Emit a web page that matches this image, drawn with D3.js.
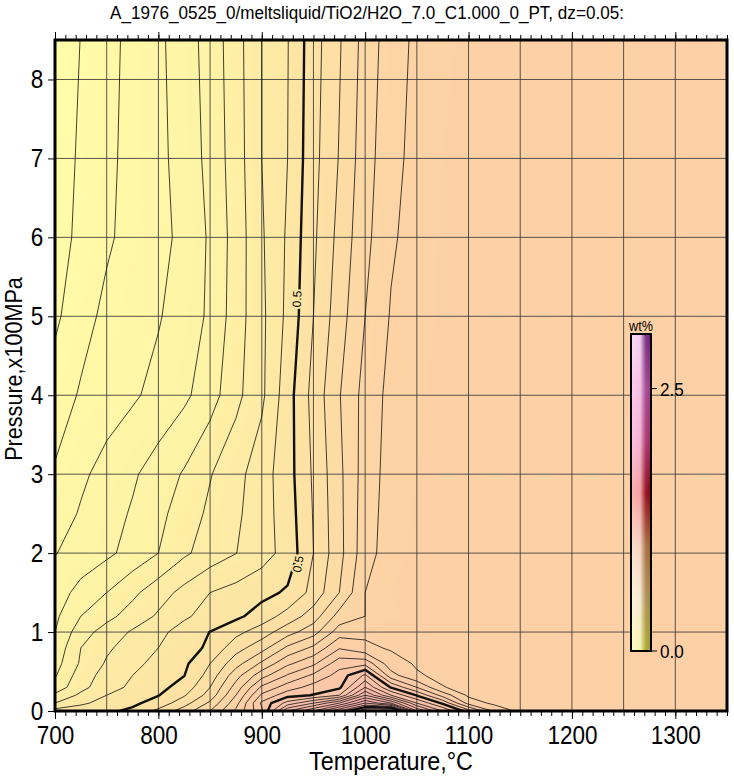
<!DOCTYPE html>
<html>
<head>
<meta charset="utf-8">
<script src="https://cdnjs.cloudflare.com/ajax/libs/d3/7.8.5/d3.min.js"></script>
<style>
  body { margin: 0; background: #fff; }
  svg text { font-family: "Liberation Sans", Arial, Helvetica, sans-serif; fill: #000; }
</style>
</head>
<body>
<svg id="chart" width="734" height="776"></svg>
<script>
// ---- data ----
const TITLE = "A_1976_0525_0/meltsliquid/TiO2/H2O_7.0_C1.000_0_PT, dz=0.05:";
const T_COLS = [700, 725, 750, 775, 800, 825, 850, 875, 900, 925, 950, 975, 1000, 1025, 1050, 1075, 1100, 1125, 1150, 1200, 1350];
const P_ROWS = [8.5, 7, 6, 5, 4, 3, 2.5, 2, 1.5, 1.2, 1.0, 0.8, 0.6, 0.45, 0.3, 0.2, 0.1, 0];
// TiO2 wt% in melt, one row per pressure (top to bottom), one value per temperature
const TIO2 = [
  [0.07, 0.101, 0.134, 0.164, 0.19, 0.226, 0.27, 0.329, 0.40, 0.448, 0.529, 0.595, 0.669, 0.727, 0.76, 0.775, 0.785, 0.785, 0.785, 0.785, 0.785],
  [0.075, 0.107, 0.139, 0.165, 0.188, 0.219, 0.265, 0.325, 0.40, 0.45, 0.534, 0.603, 0.678, 0.735, 0.765, 0.78, 0.785, 0.785, 0.785, 0.785, 0.785],
  [0.08, 0.111, 0.143, 0.166, 0.186, 0.212, 0.257, 0.321, 0.394, 0.457, 0.541, 0.615, 0.686, 0.743, 0.77, 0.782, 0.785, 0.785, 0.785, 0.785, 0.785],
  [0.09, 0.133, 0.161, 0.179, 0.196, 0.224, 0.258, 0.325, 0.389, 0.462, 0.55, 0.628, 0.70, 0.754, 0.772, 0.783, 0.785, 0.785, 0.785, 0.785, 0.785],
  [0.125, 0.155, 0.174, 0.193, 0.215, 0.24, 0.278, 0.336, 0.39, 0.479, 0.567, 0.647, 0.718, 0.765, 0.778, 0.784, 0.785, 0.785, 0.785, 0.785, 0.785],
  [0.155, 0.19, 0.219, 0.243, 0.273, 0.305, 0.347, 0.384, 0.427, 0.48, 0.557, 0.638, 0.723, 0.77, 0.78, 0.785, 0.785, 0.785, 0.785, 0.785, 0.785],
  [0.173, 0.205, 0.23, 0.255, 0.287, 0.323, 0.36, 0.391, 0.428, 0.475, 0.553, 0.636, 0.727, 0.772, 0.782, 0.785, 0.785, 0.785, 0.785, 0.785, 0.785],
  [0.198, 0.219, 0.24, 0.267, 0.30, 0.342, 0.372, 0.399, 0.429, 0.469, 0.55, 0.634, 0.73, 0.775, 0.783, 0.785, 0.785, 0.785, 0.785, 0.785, 0.785],
  [0.225, 0.267, 0.30, 0.339, 0.378, 0.415, 0.45, 0.467, 0.485, 0.507, 0.567, 0.65, 0.75, 0.78, 0.784, 0.785, 0.785, 0.785, 0.785, 0.785, 0.785],
  [0.24, 0.30, 0.336, 0.371, 0.407, 0.443, 0.468, 0.489, 0.523, 0.57, 0.625, 0.72, 0.75, 0.777, 0.783, 0.785, 0.785, 0.785, 0.785, 0.785, 0.785],
  [0.25, 0.328, 0.371, 0.406, 0.438, 0.469, 0.501, 0.536, 0.575, 0.63, 0.68, 0.775, 0.79, 0.787, 0.786, 0.785, 0.785, 0.785, 0.785, 0.785, 0.785],
  [0.265, 0.35, 0.392, 0.422, 0.45, 0.477, 0.51, 0.58, 0.63, 0.71, 0.76, 0.845, 0.81, 0.795, 0.79, 0.787, 0.785, 0.785, 0.785, 0.785, 0.785],
  [0.28, 0.357, 0.406, 0.437, 0.465, 0.49, 0.55, 0.63, 0.71, 0.79, 0.84, 0.93, 0.935, 0.82, 0.795, 0.789, 0.787, 0.785, 0.785, 0.785, 0.785],
  [0.295, 0.375, 0.419, 0.45, 0.475, 0.499, 0.57, 0.68, 0.78, 0.855, 0.91, 0.97, 1.06, 0.87, 0.805, 0.79, 0.788, 0.785, 0.785, 0.785, 0.785],
  [0.32, 0.385, 0.43, 0.46, 0.485, 0.52, 0.6, 0.72, 0.86, 0.925, 0.97, 0.99, 1.15, 0.995, 0.9, 0.802, 0.788, 0.785, 0.785, 0.785, 0.785],
  [0.36, 0.41, 0.45, 0.475, 0.498, 0.545, 0.62, 0.75, 0.91, 0.98, 1.003, 1.05, 1.25, 1.1, 0.995, 0.88, 0.79, 0.786, 0.785, 0.785, 0.785],
  [0.40, 0.44, 0.47, 0.49, 0.52, 0.58, 0.66, 0.78, 0.96, 1.07, 1.15, 1.25, 1.4, 1.3, 1.1, 0.99, 0.83, 0.788, 0.786, 0.785, 0.785],
  [0.47, 0.48, 0.49, 0.51, 0.563, 0.625, 0.70, 0.81, 0.94, 1.2, 1.3, 1.45, 1.6, 1.65, 1.25, 1.1, 0.97, 0.84, 0.787, 0.785, 0.785]
];
const X_MAJOR = d3.range(700, 1351, 100);
const X_MINOR = d3.range(700, 1351, 10);
const X_GRID = d3.range(750, 1350, 50);
const Y_MAJOR = d3.range(0, 9, 1);
const Y_GRID = d3.range(1, 9, 1);
const CB_TICKS = [0, 2.5];
const CONTOUR_LABELS = [
  {t: 934, p: 5.22, text: "0.5", angle: -88},
  {t: 935, p: 1.86, text: "0.5", angle: -80}
];

// ---- layout ----
const svg = d3.select("#chart");
const X0 = 55, X1 = 727, Y0 = 40, Y1 = 711;
const x = d3.scaleLinear().domain([700, 1350]).range([X0, X1]);
const y = d3.scaleLinear().domain([0, 8.5]).range([Y1, Y0]);

// colour of the field
const FILL = d3.scaleLinear()
  .domain([0, 0.1, 0.3, 0.5, 0.785, 1.0, 1.3, 1.7, 2.2, 3.0])
  .range(["#ffffae", "#fffba8", "#fef1a5", "#fde4a4", "#fdd1a5", "#fcc6a8", "#f9b4ac", "#f4a2b0", "#f0a8d8", "#c070c0"])
  .clamp(true);

const defs = svg.append("defs");
defs.append("clipPath").attr("id", "plotclip")
  .append("rect").attr("x", X0).attr("y", Y0).attr("width", X1 - X0).attr("height", Y1 - Y0);

// grid index -> data units (sample i sits at contour coordinate i + 0.5)
const nx = T_COLS.length, ny = P_ROWS.length;
const values = TIO2.flat();
const tIdx = d3.scaleLinear().domain(d3.range(nx)).range(T_COLS);
const pIdx = d3.scaleLinear().domain(d3.range(ny)).range(P_ROWS);
const proj = d3.geoTransform({
  point(px, py) { this.stream.point(x(tIdx(px - 0.5)), y(pIdx(py - 0.5))); }
});
const path = d3.geoPath(proj);

const plot = svg.append("g").attr("clip-path", "url(#plotclip)");

/** 填色 **/
const fillLevels = d3.range(0, 1.8, 0.01);
plot.append("g").selectAll("path")
  .data(d3.contours().size([nx, ny]).thresholds(fillLevels)(values))
  .join("path")
  .attr("d", path)
  .attr("fill", d => FILL(d.value + 0.005));

/** 网格线 **/
const grid = plot.append("g").attr("stroke", "#3a3a3a").attr("stroke-width", 1).attr("stroke-opacity", 0.85);
grid.selectAll("line.v").data(X_GRID).join("line").attr("class", "v")
  .attr("x1", d => x(d)).attr("x2", d => x(d)).attr("y1", Y0).attr("y2", Y1);
grid.selectAll("line.h").data(Y_GRID).join("line").attr("class", "h")
  .attr("x1", X0).attr("x2", X1).attr("y1", d => y(d)).attr("y2", d => y(d));

/** 等值线 **/
const lineLevels = d3.range(1, 35).map(k => k * 0.05);
plot.append("g").selectAll("path")
  .data(d3.contours().size([nx, ny]).thresholds(lineLevels)(values))
  .join("path")
  .attr("d", path)
  .attr("fill", "none")
  .attr("stroke", "#111")
  .attr("stroke-linejoin", "round")
  .attr("stroke-width", d => Math.abs(d.value * 2 - Math.round(d.value * 2)) < 1e-6 ? 2.4 : 0.8);

// contour annotations
plot.append("g").selectAll("text")
  .data(CONTOUR_LABELS)
  .join("text")
  .attr("transform", d => `translate(${x(d.t)},${y(d.p)}) rotate(${d.angle})`)
  .attr("text-anchor", "middle")
  .attr("dy", "0.35em")
  .attr("font-size", 12)
  .attr("stroke", FILL(0.5))
  .attr("stroke-width", 4)
  .attr("paint-order", "stroke")
  .text(d => d.text);

/** 坐标轴 **/
function styleAxis(g) {
  g.attr("font-size", null).attr("font-family", null);
  g.select(".domain").remove();
  g.selectAll("line").attr("stroke", "#000").attr("stroke-width", 1);
}
// minor ticks bottom and top
svg.append("g").attr("transform", `translate(0,${Y1})`)
  .call(d3.axisBottom(x).tickValues(X_MINOR).tickSize(5).tickFormat(""))
  .call(styleAxis);
svg.append("g").attr("transform", `translate(0,${Y0})`)
  .call(d3.axisTop(x).tickValues(X_MINOR).tickSize(5).tickFormat(""))
  .call(styleAxis);
svg.append("g").attr("transform", `translate(0,${Y0})`)
  .call(d3.axisTop(x).tickValues(X_MAJOR).tickSize(8).tickFormat(""))
  .call(styleAxis);
// major bottom with labels
const axB = svg.append("g").attr("transform", `translate(0,${Y1})`)
  .call(d3.axisBottom(x).tickValues(X_MAJOR).tickSize(8).tickPadding(7).tickFormat(d3.format("d")))
  .call(styleAxis);
axB.selectAll("text").attr("font-size", 25).attr("transform", "scale(0.9,1)");
// left
const axL = svg.append("g").attr("transform", `translate(${X0},0)`)
  .call(d3.axisLeft(y).tickValues(Y_MAJOR).tickSize(7).tickPadding(6).tickFormat(d3.format("d")))
  .call(styleAxis);
axL.selectAll("text").attr("font-size", 25).attr("transform", "scale(0.9,1)");

// frame
svg.append("rect")
  .attr("x", X0).attr("y", Y0).attr("width", X1 - X0).attr("height", Y1 - Y0)
  .attr("fill", "none").attr("stroke", "#000").attr("stroke-width", 3);

// titles
svg.append("text")
  .attr("transform", `translate(${(X0 + X1) / 2 - 24},19) scale(0.9,1)`)
  .attr("text-anchor", "middle").attr("font-size", 19)
  .text(TITLE);
svg.append("text")
  .attr("transform", `translate(391,770) scale(0.9,1)`)
  .attr("text-anchor", "middle").attr("font-size", 26)
  .text("Temperature,°C");
svg.append("text")
  .attr("transform", `translate(22,369) rotate(-90) scale(0.9,1)`)
  .attr("text-anchor", "middle").attr("font-size", 24)
  .text("Pressure,x100MPa");

/** 色标 **/
const CB = {x: 631, w: 20, top: 334, bottom: 651};
const cbY = d3.scaleLinear().domain([0, 3.02]).range([CB.bottom, CB.top]);
const CB_VALS = [0, 0.5, 1.0, 1.5, 2.0, 2.5, 3.0];
const CB_LIGHT = ["#ffffc4", "#fff6e4", "#ffe2d4", "#ffb6b6", "#ffc4e2", "#ffd0f0", "#ffe4ff"];
const CB_DARK = ["#a4a028", "#a88848", "#a06434", "#880010", "#a02c64", "#9c3c88", "#6c1c70"];
const strips = d3.range(CB.w);
strips.forEach(i => {
  const t = i / (CB.w - 1);
  const w = t < 0.45 ? 0.04 + t * 0.15 : t < 0.75 ? 0.11 + (t - 0.45) / 0.3 * 0.75 : 0.86 + (t - 0.75) * 0.5;
  const grad = defs.append("linearGradient").attr("id", "cb" + i)
    .attr("x1", 0).attr("y1", 1).attr("x2", 0).attr("y2", 0);
  CB_VALS.forEach((v, k) => {
    grad.append("stop")
      .attr("offset", (v / 3.02))
      .attr("stop-color", d3.interpolateRgb(CB_LIGHT[k], CB_DARK[k])(w));
  });
});
const cbar = svg.append("g");
cbar.selectAll("rect.s").data(strips).join("rect").attr("class", "s")
  .attr("x", i => CB.x + i).attr("y", CB.top).attr("width", 1.05).attr("height", CB.bottom - CB.top)
  .attr("shape-rendering", "crispEdges")
  .attr("fill", i => `url(#cb${i})`);
cbar.append("rect")
  .attr("x", CB.x).attr("y", CB.top).attr("width", CB.w).attr("height", CB.bottom - CB.top)
  .attr("fill", "none").attr("stroke", "#000").attr("stroke-width", 2);
cbar.selectAll("line.t").data(CB_TICKS).join("line").attr("class", "t")
  .attr("x1", CB.x + CB.w).attr("x2", CB.x + CB.w + 6)
  .attr("y1", d => cbY(d)).attr("y2", d => cbY(d))
  .attr("stroke", "#000");
cbar.selectAll("text.t").data(CB_TICKS).join("text").attr("class", "t")
  .attr("transform", d => `translate(${CB.x + CB.w + 9},${cbY(d) + 7}) scale(0.9,1)`)
  .attr("font-size", 19)
  .text(d => d3.format(".1f")(d));
cbar.append("text")
  .attr("transform", `translate(${CB.x + CB.w / 2},${CB.top - 3}) scale(0.9,1)`)
  .attr("text-anchor", "middle").attr("font-size", 14)
  .text("wt%");
</script>
</body>
</html>
